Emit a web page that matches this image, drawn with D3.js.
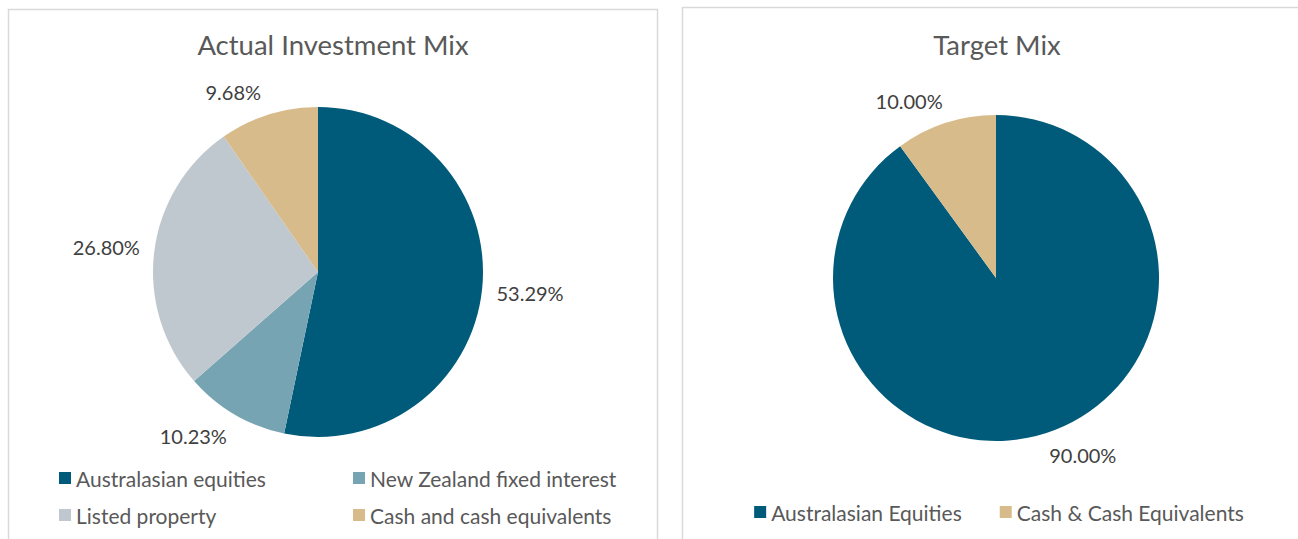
<!DOCTYPE html>
<html lang="en">
<head>
  <meta charset="UTF-8">
  <title>Investment Mix</title>
  <style>
    body { margin: 0; background: #fff; overflow: hidden; }
    svg { display: block; font-family: Lato, "Open Sans", sans-serif; }
    .panel { fill: #fff; stroke: #d9d9d9; stroke-width: 1.5px; }
    .title { fill: #595959; font-size: 27.5px; }
    .pct { fill: #404040; font-size: 20px; }
    .legend text { fill: #595959; font-size: 21px; }
  </style>
</head>
<body>
  <script src="https://d3js.org/d3.v7.min.js"></script>
  <script>
    // actual mix
    const actualCategories = ["Australasian equities", "New Zealand fixed interest", "Listed property", "Cash and cash equivalents"];
    const actualValues = [53.29, 10.23, 26.80, 9.68];
    const actualColors = ["#005a79", "#77a4b2", "#bfc8ce", "#d8bb8a"];

    // target mix
    const targetCategories = ["Australasian Equities", "Cash & Cash Equivalents"];
    const targetValues = [90.00, 10.00];
    const targetColors = ["#005a79", "#d8bb8a"];

    const width = 1298, height = 539;
    const svg = d3.select("body").append("svg").attr("width", width).attr("height", height);

    function drawPie(opts) {
      const g = svg.append("g");
      g.append("rect").attr("class", "panel")
        .attr("x", opts.box[0]).attr("y", opts.box[1])
        .attr("width", opts.box[2]).attr("height", opts.box[3]);

      g.append("text").attr("class", "title")
        .attr("x", opts.titleX).attr("y", opts.titleY)
        .attr("text-anchor", "middle")
        .text(opts.title);

      const data = opts.categories.map((c, i) => ({ name: c, value: opts.values[i], color: opts.colors[i] }));
      const pie = d3.pie().value(d => d.value).sort(null);
      const arc = d3.arc().innerRadius(0).outerRadius(opts.r);
      const arcs = pie(data);

      const pg = g.append("g").attr("transform", `translate(${opts.cx},${opts.cy})`);
      pg.selectAll("path").data(arcs).enter().append("path")
        .attr("d", arc)
        .attr("fill", d => d.data.color);

      // labels outside end, pushed away from the edge like excel
      const lw = 70, lh = 20, pad = 13;
      pg.selectAll("text.pct").data(arcs).enter().append("text")
        .attr("class", "pct")
        .attr("text-anchor", "middle")
        .attr("dominant-baseline", "central")
        .attr("x", d => {
          const a = (d.startAngle + d.endAngle) / 2;
          const s = Math.sin(a);
          return (opts.r + pad) * s + lw / 2 * Math.max(-1, Math.min(1, s * 3));
        })
        .attr("y", d => {
          const a = (d.startAngle + d.endAngle) / 2;
          const c = -Math.cos(a);
          return (opts.r + pad) * c + lh / 2 * Math.max(-1, Math.min(1, c * 3));
        })
        .text(d => d.data.value.toFixed(2) + "%");

      const lg = g.append("g").attr("class", "legend");
      const items = lg.selectAll("g").data(data).enter().append("g");
      items.append("rect").attr("width", 12).attr("height", 12).attr("y", -6)
        .attr("fill", d => d.color);
      items.append("text").attr("x", 17).attr("dominant-baseline", "central")
        .text(d => d.name);

      if (opts.legendCols) {
        items.attr("transform", (d, i) =>
          `translate(${opts.legendX + (i % opts.legendCols) * opts.colW},${opts.legendY + Math.floor(i / opts.legendCols) * opts.rowH})`);
      } else {
        // single centered row
        const gap = 38;
        const widths = [];
        items.each(function () { widths.push(17 + this.querySelector("text").getComputedTextLength()); });
        const total = d3.sum(widths) + gap * (widths.length - 1);
        let x = opts.legendX - total / 2;
        items.attr("transform", (d, i) => {
          const t = `translate(${x},${opts.legendY})`;
          x += widths[i] + gap;
          return t;
        });
      }
    }

    drawPie({
      box: [8.5, 9.5, 649, 560],
      title: "Actual Investment Mix", titleX: 333, titleY: 55,
      categories: actualCategories, values: actualValues, colors: actualColors,
      cx: 318, cy: 272, r: 165,
      legendCols: 2, legendX: 59, legendY: 478, colW: 294, rowH: 37
    });

    drawPie({
      box: [682.5, 7.5, 640, 560],
      title: "Target Mix", titleX: 997, titleY: 55,
      categories: targetCategories, values: targetValues, colors: targetColors,
      cx: 996, cy: 278, r: 163,
      legendX: 999, legendY: 512
    });
  </script>
</body>
</html>
